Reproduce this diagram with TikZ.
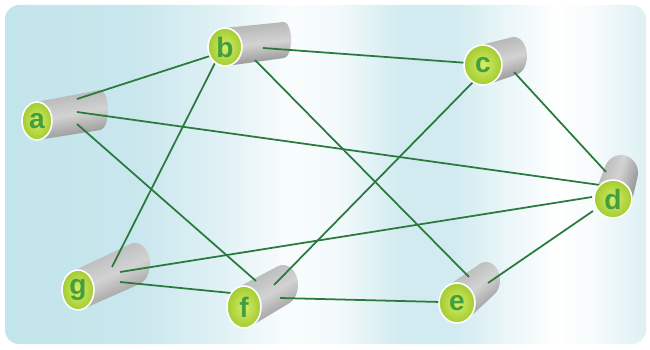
\documentclass[tikz,border=0pt]{standalone}
\usepackage{fontspec}
\setmainfont{Liberation Sans}
\usepackage{tikz}
\usetikzlibrary{shapes.geometric, calc}
\usepackage{xcolor}

\definecolor{bgblue}{RGB}{194,228,235}
\definecolor{linkgreen}{RGB}{42,122,62}
\definecolor{facein}{RGB}{214,236,104}
\definecolor{faceout}{RGB}{162,204,48}
\definecolor{lettergreen}{RGB}{66,158,62}

\pgfdeclarelayer{background}
\pgfdeclarelayer{bodies}
\pgfdeclarelayer{links}
\pgfsetlayers{background,bodies,links,main}

\pgfdeclarehorizontalshading{bgshade}{100bp}{color(0bp)=(bgblue); color(25bp)=(bgblue);
  color(35bp)=(bgblue!90!white); color(42bp)=(bgblue!50!white); color(47bp)=(bgblue!10!white);
  color(51bp)=(bgblue!20!white); color(56bp)=(bgblue!75!white); color(60bp)=(bgblue!75!white);
  color(64bp)=(bgblue!35!white); color(68bp)=(white); color(71bp)=(bgblue!15!white);
  color(75bp)=(bgblue!55!white); color(100bp)=(bgblue!55!white)}

% cilindro: nome, frente x y, rx ry, fundo x y, rx ry
\newcommand{\drum}[9]{%
  \pgfmathsetmacro{\ux}{#6-#2}%
  \pgfmathsetmacro{\uy}{#7-#3}%
  \pgfmathsetmacro{\ang}{atan2(\uy,\ux)}%
  \pgfmathsetmacro{\tf}{atan2(#5*(\ux),-#4*(\uy))}%
  \pgfmathsetmacro{\tb}{atan2(#9*(\ux),-#8*(\uy))}%
  \begin{pgfonlayer}{bodies}
    \shade[drumshade, shading angle=\ang]
      ($(#2,#3)+(\tf:#4 and #5)$) -- ($(#6,#7)+(\tb:#8 and #9)$)
      arc[start angle=\tb, end angle=\tb-180, x radius=#8, y radius=#9]
      -- ($(#2,#3)+(\tf+180:#4 and #5)$) -- cycle;
  \end{pgfonlayer}
  \node[face, minimum width=#4*0.04cm, minimum height=#5*0.04cm] (#1) at (#2,#3) {#1};
}

\begin{document}
\begin{tikzpicture}[x=0.02cm, y=0.02cm,
    drumshade/.style={top color=gray!60, bottom color=gray!90, middle color=gray!35},
    face/.style={ellipse, draw=white, line width=0.9pt, inner sep=0pt,
      inner color=facein, outer color=faceout, text=lettergreen,
      font=\fontsize{16}{16}\selectfont\bfseries},
    link/.style={draw=linkgreen, line width=1pt}]
    \useasboundingbox (0,0) rectangle (650,349);
    % Fundo
    \begin{pgfonlayer}{background}
        \shade[shading=bgshade, rounded corners=0.28cm] (5,5) rectangle (646,344);
    \end{pgfonlayer}
    % Cilindros
    \drum{a}{37}{228}{15}{19}{100}{239}{8}{20}
    \drum{b}{225}{302}{17}{19}{284}{309}{7}{18}
    \drum{c}{483}{284}{19}{20}{514}{293}{13}{19}
    \drum{d}{613}{150}{19}{19}{621}{176}{17}{18}
    \drum{e}{457}{46}{18}{20}{486}{69}{14}{18}
    \drum{f}{244}{42}{17}{21}{283}{64}{15}{20}
    \drum{g}{78}{59}{16}{20}{135}{85}{15}{21}
    % Pontos de ligação
    \coordinate (ab) at (77,250);  \coordinate (ba) at (213,294);
    \coordinate (ad) at (77,237);  \coordinate (da) at (600,164);
    \coordinate (af) at (77,225);  \coordinate (fa) at (256,68);
    \coordinate (bc) at (263,301); \coordinate (cb) at (468,286);
    \coordinate (bg) at (216,288); \coordinate (gb) at (112,82);
    \coordinate (be) at (255,289); \coordinate (eb) at (469,72);
    \coordinate (cf) at (474,268); \coordinate (fc) at (274,64);
    \coordinate (cd) at (514,277); \coordinate (dc) at (606,177);
    \coordinate (dg) at (592,152); \coordinate (gd) at (120,77);
    \coordinate (de) at (593,138); \coordinate (ed) at (488,66);
    \coordinate (gf) at (120,67);  \coordinate (fg) at (231,56);
    \coordinate (fe) at (280,51);  \coordinate (ef) at (441,47);
    % Ligações
    \begin{pgfonlayer}{links}
        \foreach \p/\q in {ab/ba, ad/da, af/fa, bc/cb, bg/gb, be/eb,
                           cf/fc, cd/dc, dg/gd, de/ed, gf/fg, fe/ef}
            \draw[link] (\p) -- (\q);
    \end{pgfonlayer}
\end{tikzpicture}
\end{document}
